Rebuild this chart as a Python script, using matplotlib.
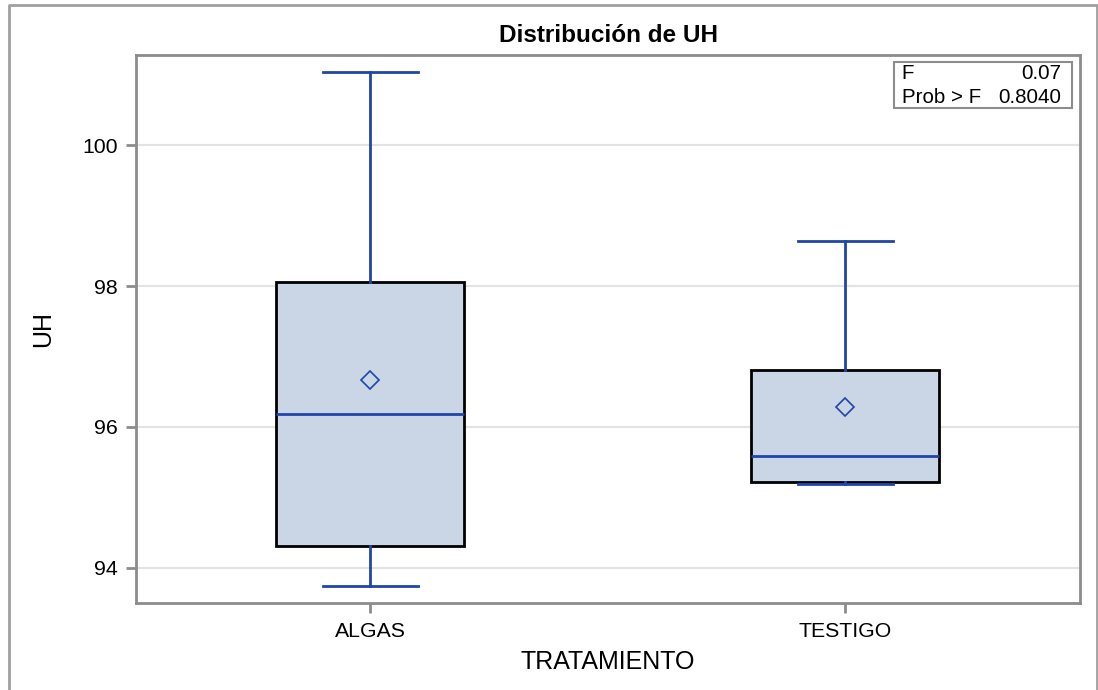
import matplotlib.pyplot as plt
from matplotlib.lines import Line2D
from matplotlib.patches import Rectangle

plt.rcParams['font.family'] = ['Liberation Sans', 'DejaVu Sans']

# box statistics
categories = ['ALGAS', 'TESTIGO']
whislo = [93.74, 95.19]
q1 = [94.31, 95.22]
med = [96.18, 95.58]
mean = [96.67, 96.28]
q3 = [98.06, 96.81]
whishi = [101.04, 98.64]
yticks = [94, 96, 98, 100]
f_value = '0.07'
p_value = '0.8040'

blue = '#1f46a8'
fill = '#cad5e5'
gray = '#8c8c8c'

stats = []
for i in range(len(categories)):
    stats.append({'label': categories[i], 'whislo': whislo[i], 'q1': q1[i],
                  'med': med[i], 'mean': mean[i], 'q3': q3[i],
                  'whishi': whishi[i], 'fliers': []})

fig = plt.figure(figsize=(10.98, 6.9), dpi=100)
ax = fig.add_axes([0.1239, 0.1261, 0.8597, 0.7942])

ax.bxp(stats, positions=[0, 1], widths=0.396, capwidths=[0.2, 0.2],
       patch_artist=True, showmeans=True, meanline=False, showfliers=False,
       boxprops=dict(facecolor=fill, edgecolor='black', linewidth=2),
       whiskerprops=dict(color=blue, linewidth=2),
       capprops=dict(color=blue, linewidth=2),
       medianprops=dict(color=blue, linewidth=2),
       meanprops=dict(marker='D', markersize=9, markerfacecolor='none',
                      markeredgecolor=blue, markeredgewidth=1.2))

ax.set_xlim(-0.4926, 1.4947)
ax.set_ylim(93.50, 101.28)
ax.set_yticks(yticks)
ax.set_yticklabels([str(t) for t in yticks])
ax.yaxis.grid(True, color='#e3e3e3', linewidth=1.5, zorder=0)
ax.set_axisbelow(True)

for s in ax.spines.values():
    s.set_color(gray)
    s.set_linewidth(2)
ax.tick_params(axis='both', colors=gray, width=2, length=7, labelsize=15.3,
               labelcolor='black')
ax.tick_params(axis='x', pad=7)
ax.tick_params(axis='y', pad=6)

ax.set_title('Distribución de UH', fontsize=17.5, fontweight='bold', pad=9)
ax.set_xlabel('TRATAMIENTO', fontsize=18, labelpad=6)
ax.set_ylabel('UH', fontsize=18, labelpad=20)

# F test inset
ax.add_patch(Rectangle((0.803, 0.903), 0.1886, 0.084, transform=ax.transAxes,
                       facecolor='white', edgecolor=gray, linewidth=1.5,
                       zorder=5))
ax.text(0.811, 0.967, 'F', transform=ax.transAxes, fontsize=14.8,
        va='center', ha='left', zorder=6)
ax.text(0.980, 0.967, f_value, transform=ax.transAxes, fontsize=14.8,
        va='center', ha='right', zorder=6)
ax.text(0.811, 0.923, 'Prob > F', transform=ax.transAxes, fontsize=14.8,
        va='center', ha='left', zorder=6)
ax.text(0.980, 0.923, p_value, transform=ax.transAxes, fontsize=14.8,
        va='center', ha='right', zorder=6)

# outer frame (left, top, right)
fig.add_artist(Line2D([0.0082, 0.0082, 0.999, 0.999], [0.0, 0.9928, 0.9928, 0.0],
                      color='#a0a0a0', linewidth=2))

fig.savefig('out.png', dpi=100)
